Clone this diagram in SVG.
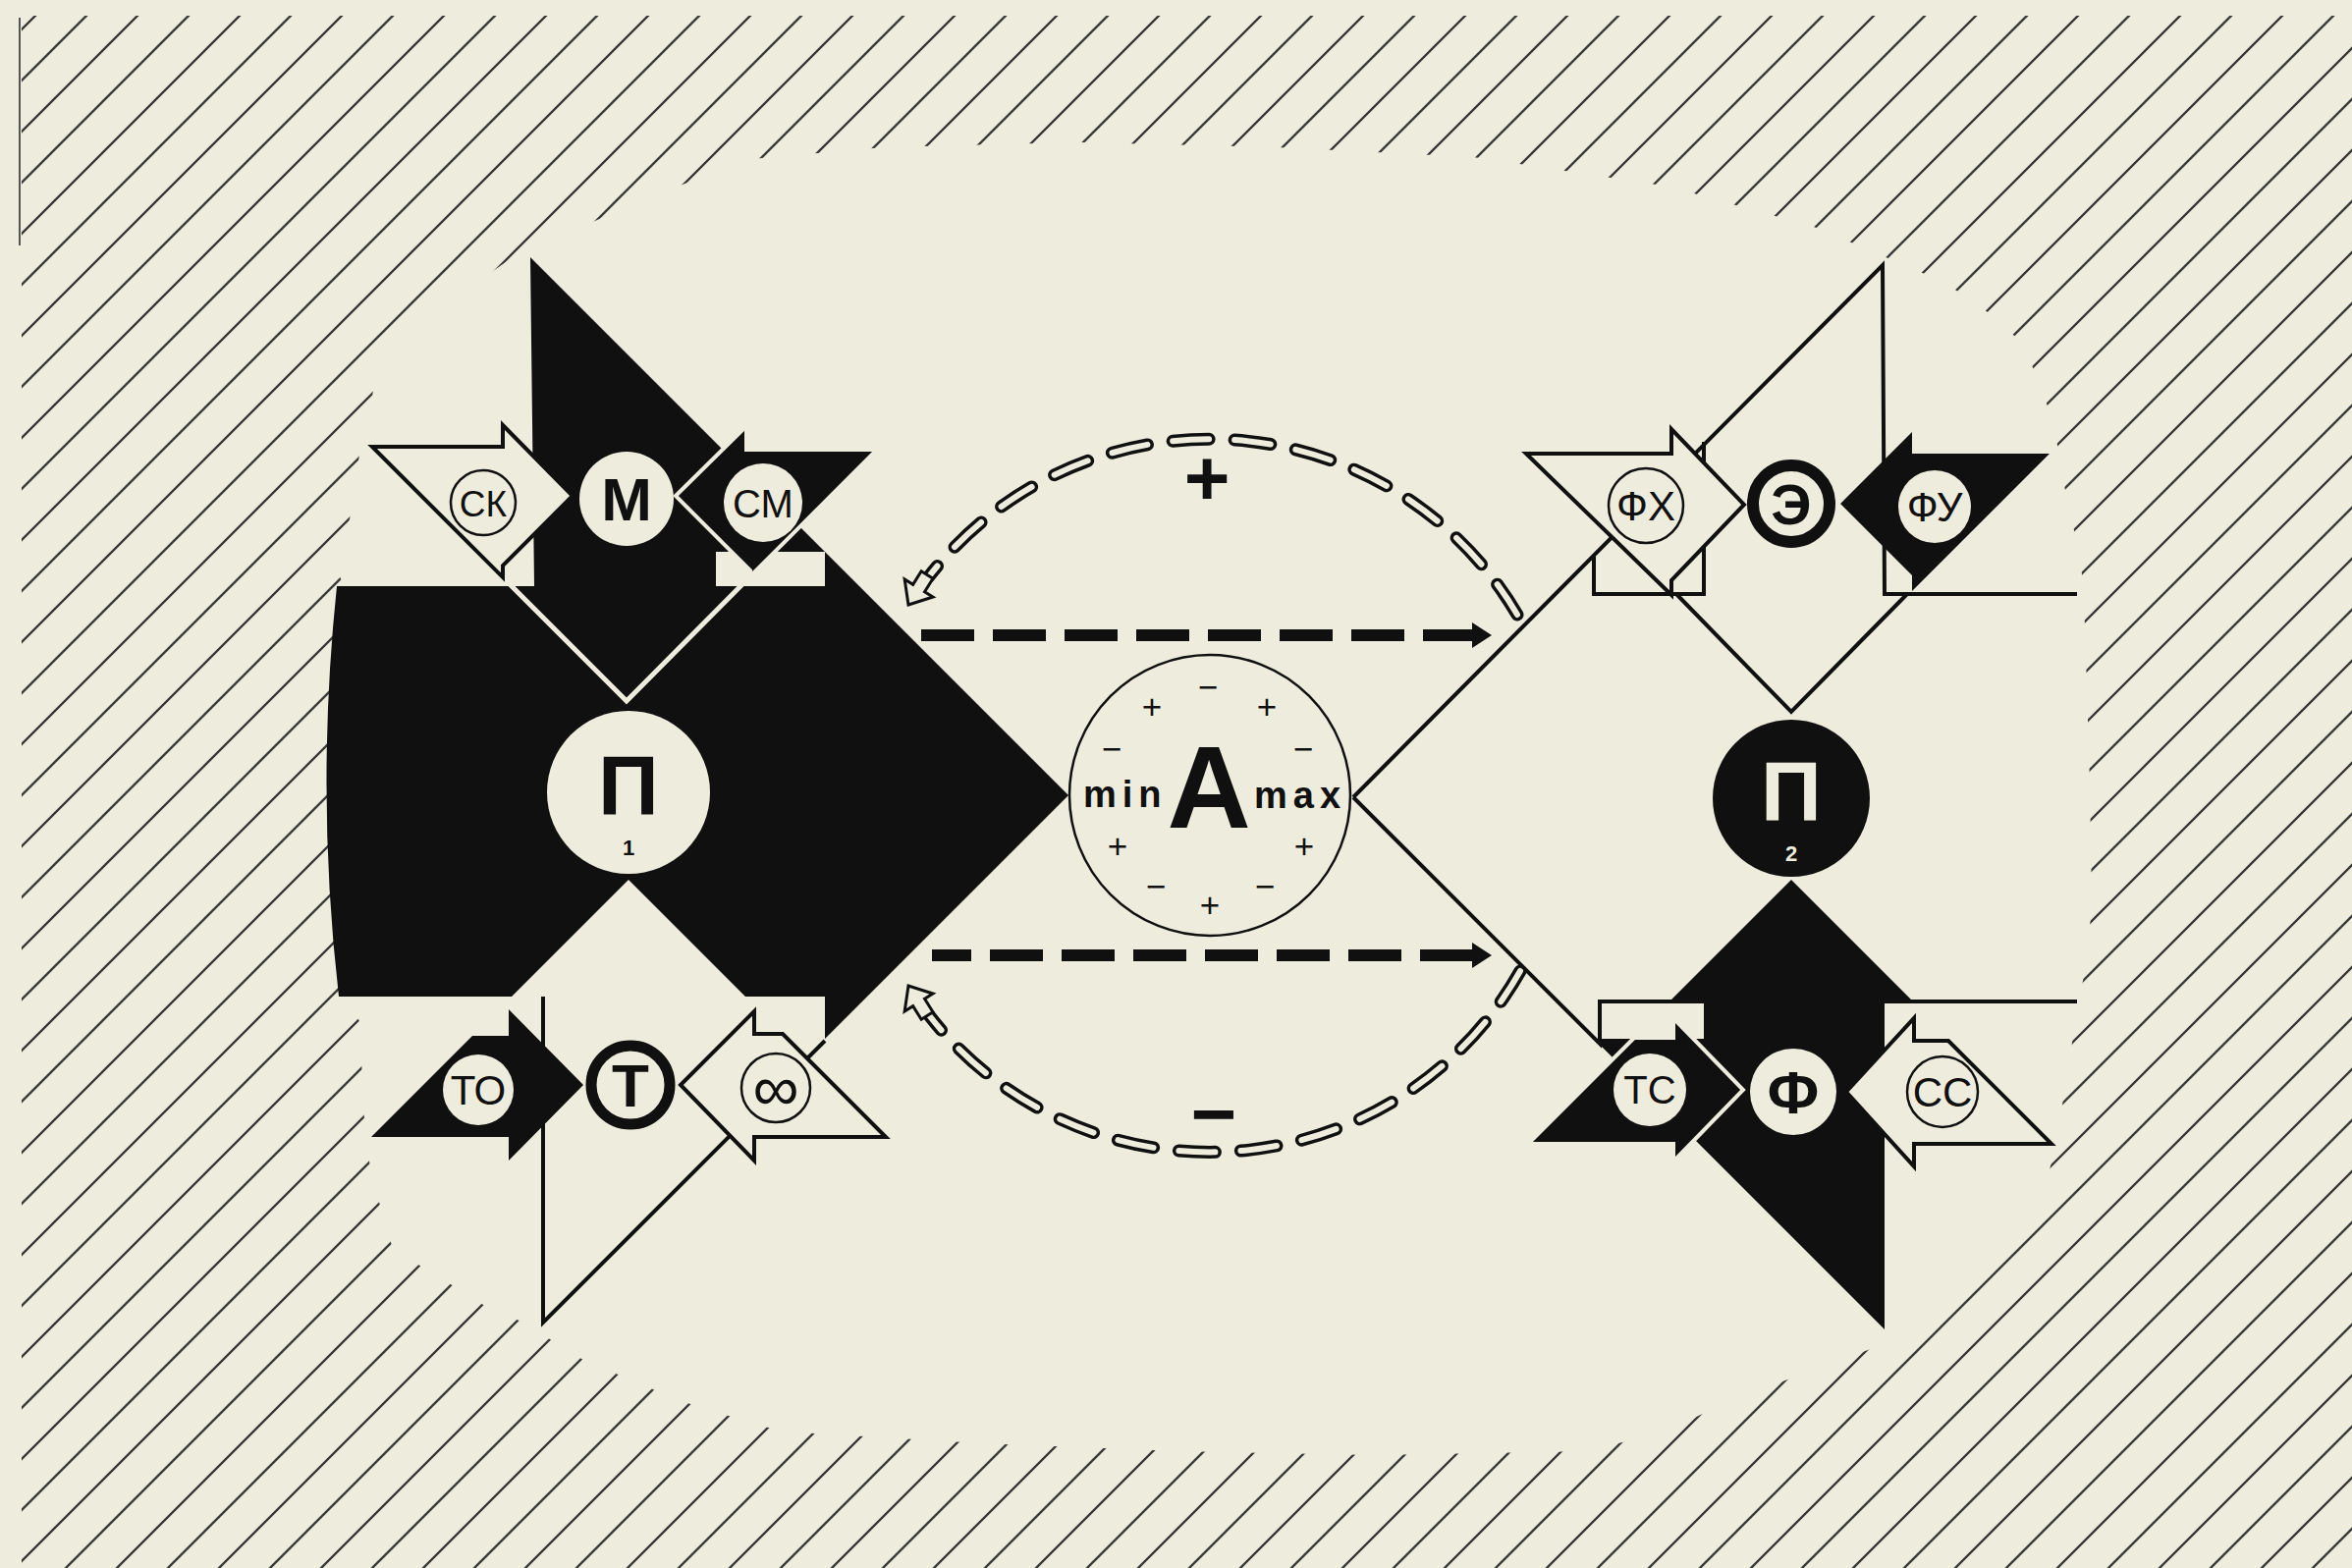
<svg xmlns="http://www.w3.org/2000/svg" width="2395" height="1597" viewBox="0 0 2395 1597">
<defs>
<style>
.bg{fill:#eeeddd}
.k{fill:#101010}
.c{fill:#eeeddd}
.wo{fill:#eeeddd;stroke:#101010;stroke-width:4;stroke-linejoin:miter}
.ko{fill:#101010;stroke:#eeeddd;stroke-width:4;stroke-linejoin:miter}
.ln{fill:none;stroke:#101010;stroke-width:4;stroke-linejoin:miter}
.wl{fill:none;stroke:#eeeddd;stroke-width:5}
.thin{fill:#eeeddd;stroke:#101010;stroke-width:2.5}
.ring{fill:#eeeddd;stroke:#101010;stroke-width:11}
text{font-family:"Liberation Sans","DejaVu Sans",sans-serif;text-anchor:middle;fill:#101010}
.inv{fill:#eeeddd}
.b{font-weight:bold}
.ps{font-size:35px}
.dash{fill:none;stroke:#101010;stroke-width:12;stroke-dasharray:54 19}
.arcO{fill:none;stroke:#101010;stroke-width:13;stroke-dasharray:37 26;stroke-linecap:round}
.arcI{fill:none;stroke:#eeeddd;stroke-width:6;stroke-dasharray:37 26;stroke-linecap:round}
.hh{fill:#eeeddd;stroke:#101010;stroke-width:3;stroke-linejoin:miter}
</style>
<pattern id="hatch" patternUnits="userSpaceOnUse" width="52" height="52">
<path d="M-4,56 L56,-4 M-4,4 L4,-4 M48,56 L56,48" stroke="#3a3a3a" stroke-width="2.4" fill="none"/>
</pattern>
<clipPath id="hc"><rect x="22" y="16" width="2373" height="1581"/></clipPath>
</defs>

<rect class="bg" x="0" y="0" width="2395" height="1597"/>

<g id="hatching">
<rect x="0" y="0" width="2395" height="1597" fill="url(#hatch)" clip-path="url(#hc)"/>
<path class="c" d="M372,455 L381,390 L430,340 L477,293 L540,250 L587,233 L676,195 L765,162 L900,150 L1100,145 L1300,150 L1500,160 L1700,190 L1850,232 L1974,285 L2004,303 L2036,327 L2061,352 L2077,392 L2091,430 L2099,477 L2107,522 L2118,562 L2122,610 L2125,700 L2128,800 L2130,917 L2126,973 L2115,1030 L2095,1157 L2079,1227 L2030,1280 L1976,1330 L1943,1360 L1861,1390 L1772,1423 L1689,1460 L1615,1478 L1400,1482 L1200,1478 L1000,1470 L796,1458 L752,1445 L711,1433 L676,1420 L638,1403 L602,1390 L566,1368 L536,1348 L497,1332 L467,1313 L434,1293 L400,1272 L388,1232 L377,1188 L372,1160 L366,1040 L350,1015 L345,806 L350,597 L346,587 L358,517 L366,463 Z"/>
<line x1="20" y1="18" x2="20" y2="250" stroke="#555" stroke-width="2"/>
</g>

<g id="node-P1">
<path class="k" d="M540,262 L1088,810 L840,1058 L840,1015 L759,1015 L640,896 L521,1015 L345,1015 Q321,806 343,597 L544,597 Z"/>
<rect class="c" x="729" y="562" width="111" height="35"/>
<path class="wl" d="M512,588 L638,714 L764,587"/>
<path class="ln" d="M553,1015 L553,1347 L840,1060"/>
<circle class="c" cx="640" cy="807" r="83"/>
<text x="640" y="830" font-size="86" class="b">П</text>
<text x="640" y="871" font-size="22" class="b">1</text>
</g>

<g id="node-CK">
<path class="wo" d="M379,455 L512,455 L512,433 L583,505 L512,576 L512,588 Z"/>
<circle class="thin" cx="492" cy="512" r="33"/>
<text x="492" y="526" font-size="37">СК</text>
</g>

<g id="node-CM">
<path class="ko" d="M688,505 L760,434 L760,458 L893,458 L764,587 L764,581 Z"/>
<circle class="c" cx="777" cy="512" r="40"/>
<text x="777" y="527" font-size="40">СМ</text>
</g>

<g id="node-M">
<circle class="c" cx="638" cy="508" r="48"/>
<text x="638" y="530" font-size="62" class="b">М</text>
</g>

<g id="node-TO">
<path class="k" d="M481,1055 L518,1055 L518,1028 L594,1105 L518,1182 L518,1158 L378,1158 Z"/>
<circle class="c" cx="487" cy="1110" r="36"/>
<text x="487" y="1125" font-size="42">ТО</text>
</g>

<g id="node-INF">
<path class="wo" d="M693,1105 L768,1030 L768,1053 L797,1053 L902,1158 L768,1158 L768,1182 Z"/>
<circle class="thin" cx="790" cy="1108" r="35"/>
<text x="790" y="1131" font-size="66">∞</text>
</g>

<g id="node-T">
<circle class="ring" cx="642" cy="1105" r="40"/>
<text x="642" y="1127" font-size="62" class="b">Т</text>
</g>

<g id="node-A">
<circle cx="1232" cy="810" r="143" fill="#eeeddd" stroke="#101010" stroke-width="2.5"/>
<text x="1231" y="843" font-size="118" class="b">A</text>
<text x="1103" y="822" font-size="38" class="b" style="text-anchor:start;letter-spacing:6px">min</text>
<text x="1277" y="823" font-size="38" class="b" style="text-anchor:start;letter-spacing:6px">max</text>
<text x="1173" y="732" class="ps">+</text>
<text x="1230" y="712" class="ps">−</text>
<text x="1290" y="732" class="ps">+</text>
<text x="1132" y="775" class="ps">−</text>
<text x="1327" y="775" class="ps">−</text>
<text x="1138" y="874" class="ps">+</text>
<text x="1328" y="874" class="ps">+</text>
<text x="1177" y="915" class="ps">−</text>
<text x="1232" y="934" class="ps">+</text>
<text x="1288" y="915" class="ps">−</text>
</g>

<g id="node-P2">
<path class="ln" d="M1378,812 L1917,270 L1919,605 L2115,605"/>
<path class="ln" d="M1623,567 L1623,605 L1735,605 L1735,450"/>
<path class="ln" d="M1707,605 L1824,725 L1942,605"/>
<path class="ln" d="M1378,812 L1629,1063 L1629,1020 L1735,1020"/>
<path class="ln" d="M1919,1020 L2115,1020"/>
<path class="k" d="M1824,896 L1947,1019 L1919,1019 L1919,1354 L1629,1064 L1629,1058 L1735,1058 L1735,1019 L1701,1019 Z"/>
<circle class="k" cx="1824" cy="813" r="80"/>
<text x="1824" y="836" font-size="86" class="b inv">П</text>
<text x="1824" y="877" font-size="22" class="b inv">2</text>
</g>

<g id="node-FX">
<path class="wo" d="M1554,462 L1702,462 L1702,437 L1776,514 L1702,591 L1702,606 Z"/>
<circle class="thin" cx="1676" cy="515" r="38"/>
<text x="1676" y="530" font-size="42">ФХ</text>
</g>

<g id="node-FY">
<path class="k" d="M1874,513 L1947,440 L1947,462 L2087,462 L1947,602 L1947,586 Z"/>
<circle class="c" cx="1970" cy="516" r="37"/>
<text x="1970" y="531" font-size="42">ФУ</text>
</g>

<g id="node-E">
<circle class="ring" cx="1824" cy="513" r="39" style="stroke-width:12"/>
<text x="1824" y="534" font-size="58" class="b">Э</text>
</g>

<g id="node-TC">
<path class="ko" d="M1664,1057 L1704,1057 L1704,1037 L1775,1110 L1704,1183 L1704,1165 L1556,1165 Z"/>
<circle class="c" cx="1680" cy="1110" r="37"/>
<text x="1680" y="1124" font-size="40">ТС</text>
</g>

<g id="node-CC">
<path class="wo" d="M1880,1112 L1949,1037 L1949,1060 L1984,1060 L2089,1165 L1949,1165 L1949,1188 Z"/>
<circle class="thin" cx="1978" cy="1112" r="36"/>
<text x="1978" y="1127" font-size="42">СС</text>
</g>

<g id="node-F">
<circle class="c" cx="1826" cy="1112" r="44"/>
<text x="1826" y="1134" font-size="62" class="b">Ф</text>
</g>

<g id="connectors">
<line class="dash" x1="938" y1="647" x2="1503" y2="647"/>
<polygon class="k" points="1499,634 1519,647 1499,660"/>
<line class="dash" x1="949" y1="973" x2="1503" y2="973" style="stroke-dashoffset:14"/>
<polygon class="k" points="1499,960 1519,973 1499,986"/>
<path class="arcO" d="M1545,626 A363,363 0 0 0 946,587"/>
<path class="arcI" d="M1545,626 A363,363 0 0 0 946,587"/>
<path class="hh" transform="translate(925,616) rotate(122)" d="M0,0 L-20,-17 L-20,-7 L-36,-7 L-36,7 L-20,7 L-20,17 Z"/>
<path class="arcO" d="M1548,989 A363,363 0 0 1 946,1034"/>
<path class="arcI" d="M1548,989 A363,363 0 0 1 946,1034"/>
<path class="hh" transform="translate(925,1004) rotate(238)" d="M0,0 L-20,-17 L-20,-7 L-36,-7 L-36,7 L-20,7 L-20,17 Z"/>
<text x="1229" y="514" font-size="80" class="b">+</text>
<text x="1236" y="1162" font-size="80" class="b">−</text>
</g>
</svg>
